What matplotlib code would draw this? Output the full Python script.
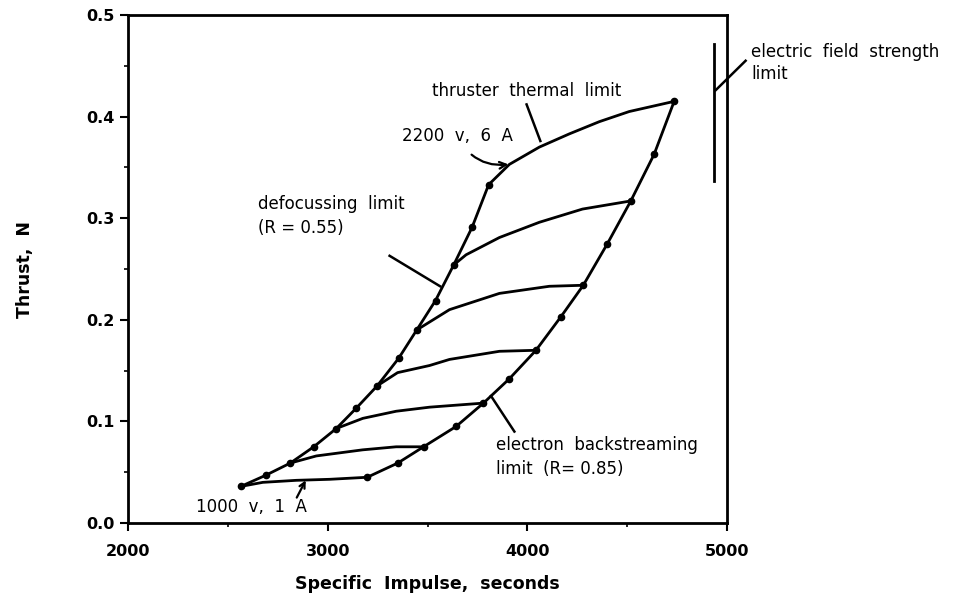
import numpy as np
import matplotlib.pyplot as plt
from matplotlib.ticker import MultipleLocator

plt.rcParams['font.family'] = ['DejaVu Sans']

# defocussing limit (left boundary)
left_isp = [2565, 2690, 2813, 2930, 3043, 3143, 3248, 3355, 3446, 3540, 3631, 3723, 3806]
left_thr = [0.036, 0.047, 0.059, 0.075, 0.093, 0.113, 0.135, 0.162, 0.190, 0.219, 0.254, 0.291, 0.333]

# electron backstreaming limit (right boundary)
right_isp = [3198, 3351, 3480, 3643, 3780, 3910, 4043, 4168, 4280, 4401, 4518, 4635, 4735]
right_thr = [0.045, 0.059, 0.075, 0.095, 0.118, 0.142, 0.170, 0.203, 0.234, 0.275, 0.317, 0.363, 0.415]

# constant current lines between the two limits
c1_isp = [2565, 2675, 2843, 3010, 3198]
c1_thr = [0.036, 0.040, 0.042, 0.043, 0.045]
c2_isp = [2813, 2943, 3175, 3343, 3480]
c2_thr = [0.059, 0.066, 0.072, 0.075, 0.075]
c3_isp = [3043, 3176, 3343, 3510, 3780]
c3_thr = [0.093, 0.103, 0.110, 0.114, 0.118]
c4_isp = [3248, 3350, 3510, 3610, 3860, 4043]
c4_thr = [0.135, 0.148, 0.155, 0.161, 0.169, 0.170]
c5_isp = [3446, 3610, 3860, 4110, 4280]
c5_thr = [0.190, 0.210, 0.226, 0.233, 0.234]
c6_isp = [3631, 3693, 3860, 4060, 4276, 4518]
c6_thr = [0.254, 0.264, 0.281, 0.296, 0.309, 0.317]
# thruster thermal limit
c7_isp = [3806, 3910, 4060, 4210, 4360, 4510, 4735]
c7_thr = [0.333, 0.353, 0.370, 0.383, 0.395, 0.405, 0.415]

# electric field strength limit
efield_isp = 4935
efield_thr = [0.337, 0.471]

fig = plt.figure(figsize=(9.64, 6.01), dpi=100)
ax = fig.add_axes([0.1328, 0.1298, 0.6214, 0.8452])

lw = 2.0
for xs, ys in [(c1_isp, c1_thr), (c2_isp, c2_thr), (c3_isp, c3_thr), (c4_isp, c4_thr),
               (c5_isp, c5_thr), (c6_isp, c6_thr), (c7_isp, c7_thr)]:
    ax.plot(xs, ys, color='black', lw=lw, solid_capstyle='round')
ax.plot(left_isp, left_thr, color='black', lw=lw, marker='o', ms=4.5)
ax.plot(right_isp, right_thr, color='black', lw=lw, marker='o', ms=4.5)
ax.plot([efield_isp, efield_isp], efield_thr, color='black', lw=lw)

ax.set_xlim(2000, 5000)
ax.set_ylim(0, 0.5)
ax.xaxis.set_major_locator(MultipleLocator(1000))
ax.xaxis.set_minor_locator(MultipleLocator(500))
ax.yaxis.set_major_locator(MultipleLocator(0.1))
ax.yaxis.set_minor_locator(MultipleLocator(0.05))
ax.yaxis.set_major_formatter(plt.FormatStrFormatter('%.1f'))
ax.tick_params(which='major', direction='out', length=6, width=1.5, labelsize=11.5)
ax.tick_params(axis='x', which='major', pad=9)
ax.tick_params(axis='y', which='major', pad=4)
ax.tick_params(which='minor', direction='out', length=3, width=1.2)
for lab in ax.get_xticklabels() + ax.get_yticklabels():
    lab.set_fontweight('bold')
for sp in ax.spines.values():
    sp.set_linewidth(2)

ax.set_xlabel('Specific  Impulse,  seconds', fontsize=12.5, fontweight='bold', labelpad=12)
ax.set_ylabel('Thrust,  N', fontsize=12.5, fontweight='bold', labelpad=37)

tkw = dict(fontsize=12, color='black')
ax.text(3520, 0.425, 'thruster  thermal  limit', va='center', **tkw)
ax.plot([3996, 4065], [0.412, 0.376], color='black', lw=1.8)

ax.annotate('2200  v,  6  A', xy=(3905, 0.353), xytext=(3650, 0.381), ha='center', va='center',
            arrowprops=dict(arrowstyle='->', color='black', lw=1.6,
                            connectionstyle='arc3,rad=0.35', shrinkA=7, shrinkB=0), **tkw)

ax.text(2650, 0.302, 'defocussing  limit\n(R = 0.55)', linespacing=1.4, va='center', **tkw)
ax.plot([3310, 3563], [0.263, 0.233], color='black', lw=1.8)

ax.text(3845, 0.065, 'electron  backstreaming\nlimit  (R= 0.85)', linespacing=1.4, va='center', **tkw)
ax.plot([3818, 3935], [0.125, 0.090], color='black', lw=1.8)

ax.text(2620, 0.0158, '1000  v,  1  A', ha='center', va='center', **tkw)
ax.annotate('', xy=(2890, 0.042), xytext=(2845, 0.025),
            arrowprops=dict(arrowstyle='->', color='black', lw=1.6, shrinkA=0, shrinkB=0))

ax.text(5120, 0.453, 'electric  field  strength\nlimit', linespacing=1.25, va='center',
        clip_on=False, **tkw)
ax.plot([4943, 5093], [0.426, 0.455], color='black', lw=1.8, clip_on=False)

fig.savefig('out.png', dpi=100)
